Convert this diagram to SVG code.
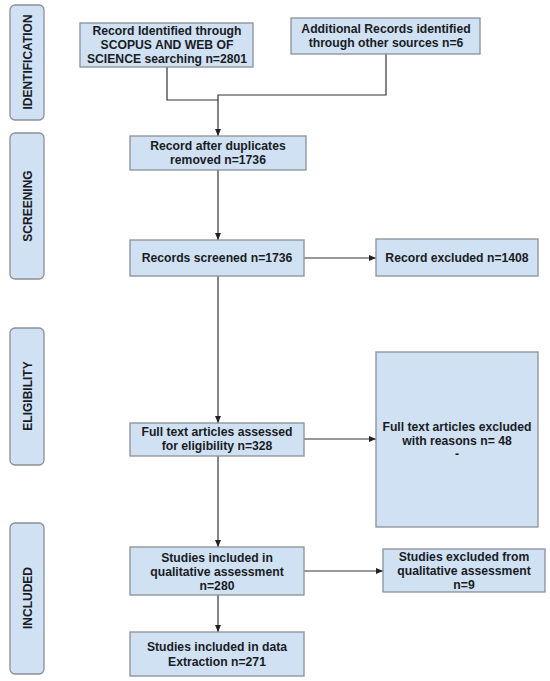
<svg xmlns="http://www.w3.org/2000/svg" width="550" height="681" viewBox="0 0 550 681">
<style>
.box{fill:#cfe1f3;stroke:#8a9098;stroke-width:1.3}
.side{fill:#cfe1f3;stroke:#8a9098;stroke-width:1.3}
.t{font-family:"Liberation Sans",Arial,sans-serif;font-weight:bold;font-size:12.2px;fill:#1a1c24;text-anchor:middle}
.s{font-size:12px}
.ln{fill:none;stroke:#333;stroke-width:1.2}
</style>
<defs>
<marker id="ah" markerWidth="8" markerHeight="8" refX="7" refY="3" orient="auto" markerUnits="userSpaceOnUse">
<path d="M0,0 L7,3 L0,6 Z" fill="#222"/>
</marker>
</defs>
<rect width="550" height="681" fill="#fff"/>
<g id="side-identification"><rect class="side" x="10" y="5" width="34" height="115" rx="5"/><text class="t s" transform="translate(31.5,62) rotate(-90)">IDENTIFICATION</text></g>
<g id="side-screening"><rect class="side" x="10" y="133" width="34" height="146" rx="5"/><text class="t s" transform="translate(31.5,206) rotate(-90)">SCREENING</text></g>
<g id="side-eligibility"><rect class="side" x="10" y="328" width="34" height="137" rx="5"/><text class="t s" transform="translate(31.5,396) rotate(-90)">ELIGIBILITY</text></g>
<g id="side-included"><rect class="side" x="10" y="523" width="34" height="151" rx="5"/><text class="t s" transform="translate(31.5,598) rotate(-90)">INCLUDED</text></g>

<g id="connectors">
<path class="ln" d="M167,67 V100 H218"/>
<path class="ln" d="M386,54 V95 H218 V136" marker-end="url(#ah)"/>
<path class="ln" d="M218,170 V240" marker-end="url(#ah)"/>
<path class="ln" d="M218,276 V423" marker-end="url(#ah)"/>
<path class="ln" d="M218,456 V547" marker-end="url(#ah)"/>
<path class="ln" d="M218,595 V632" marker-end="url(#ah)"/>
<path class="ln" d="M304,258 H376" marker-end="url(#ah)"/>
<path class="ln" d="M304,439 H376" marker-end="url(#ah)"/>
<path class="ln" d="M304,571 H383" marker-end="url(#ah)"/>
</g>

<g id="n-identified"><rect class="box" x="80" y="23" width="173" height="44"/><text class="t" x="167" y="35">Record Identified through</text><text class="t" x="167" y="49">SCOPUS AND WEB OF</text><text class="t" x="167" y="63">SCIENCE searching n=2801</text></g>
<g id="n-additional"><rect class="box" x="291" y="18" width="189" height="36"/><text class="t" x="386" y="33">Additional Records identified</text><text class="t" x="386" y="47">through other sources n=6</text></g>
<g id="n-duplicates"><rect class="box" x="130" y="136" width="176" height="34"/><text class="t" x="218" y="150">Record after duplicates</text><text class="t" x="218" y="164">removed n=1736</text></g>
<g id="n-screened"><rect class="box" x="130" y="240" width="174" height="36"/><text class="t" x="217" y="262">Records screened n=1736</text></g>
<g id="n-excluded"><rect class="box" x="376" y="239" width="162" height="37"/><text class="t" x="457" y="262">Record excluded n=1408</text></g>
<g id="n-fulltext"><rect class="box" x="130" y="423" width="174" height="33"/><text class="t" x="217" y="436">Full text articles assessed</text><text class="t" x="217" y="450">for eligibility n=328</text></g>
<g id="n-fulltext-excluded"><rect class="box" x="376" y="352" width="162" height="175"/><text class="t" x="457" y="431">Full text articles excluded</text><text class="t" x="457" y="445">with reasons n= 48</text><text class="t" x="457" y="458">-</text></g>
<g id="n-qualitative"><rect class="box" x="130" y="547" width="174" height="48"/><text class="t" x="217" y="562">Studies included in</text><text class="t" x="217" y="576">qualitative assessment</text><text class="t" x="217" y="590">n=280</text></g>
<g id="n-qual-excluded"><rect class="box" x="383" y="549" width="162" height="43"/><text class="t" x="464" y="561">Studies excluded from</text><text class="t" x="464" y="575">qualitative assessment</text><text class="t" x="464" y="589">n=9</text></g>
<g id="n-extraction"><rect class="box" x="130" y="632" width="174" height="44"/><text class="t" x="217" y="651">Studies included in data</text><text class="t" x="217" y="666">Extraction n=271</text></g>
</svg>
